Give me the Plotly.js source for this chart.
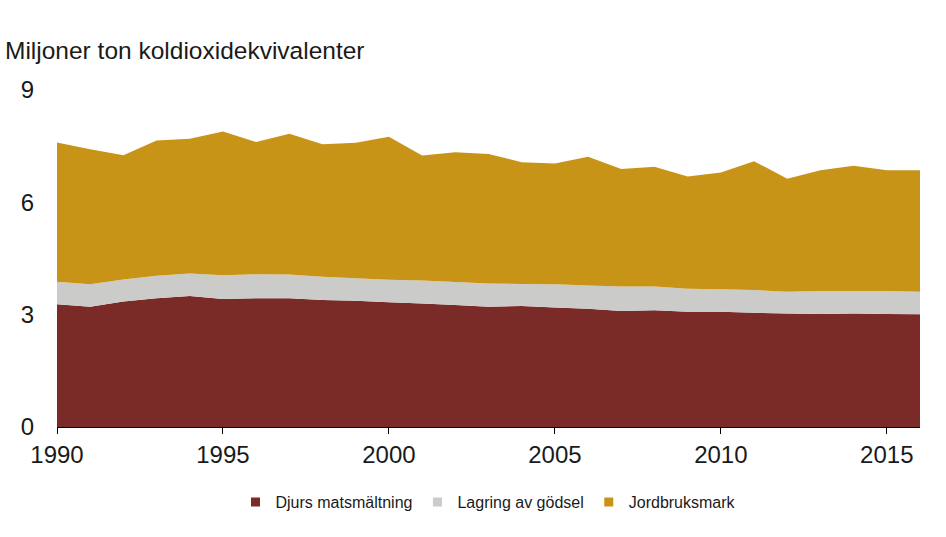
<!DOCTYPE html>
<html>
<head>
<meta charset="utf-8">
<script src="https://cdn.plot.ly/plotly-3.0.1.min.js"></script>
<style>html,body{margin:0;padding:0;background:#fff;}#chart{width:946px;height:537px;}</style>
</head>
<body>
<div id="chart"></div>
<script>
var years = [1990,1991,1992,1993,1994,1995,1996,1997,1998,1999,2000,2001,2002,2003,2004,2005,2006,2007,2008,2009,2010,2011,2012,2013,2014,2015,2016];
var djursMatsmaltning = [3.28,3.21,3.35,3.44,3.50,3.42,3.44,3.44,3.39,3.37,3.33,3.30,3.26,3.21,3.23,3.19,3.16,3.10,3.12,3.08,3.08,3.05,3.03,3.02,3.03,3.02,3.01];
var lagringAvGodsel = [0.60,0.60,0.59,0.60,0.60,0.63,0.64,0.63,0.62,0.60,0.60,0.61,0.61,0.62,0.59,0.62,0.62,0.65,0.63,0.61,0.60,0.61,0.58,0.61,0.60,0.61,0.60];
var jordbruksmark = [3.72,3.61,3.32,3.61,3.60,3.84,3.53,3.76,3.54,3.62,3.82,3.34,3.47,3.46,3.25,3.23,3.44,3.14,3.20,3.00,3.12,3.44,3.02,3.23,3.35,3.23,3.25];
var seriesNames = ["Djurs matsmältning","Lagring av gödsel","Jordbruksmark"];
var colors = ["#7a2a27","#cbccca","#c79418"];
var xTicks = [1990,1995,2000,2005,2010,2015];
var yTicks = [0,3,6,9];

var font = "Arial, 'Liberation Sans', sans-serif";
var vals = [djursMatsmaltning, lagringAvGodsel, jordbruksmark];
var traces = [];
for (var i = 0; i < 3; i++) {
  traces.push({
    x: years, y: vals[i], type: "scatter", mode: "none",
    stackgroup: "one", fillcolor: colors[i], line: {width: 0},
    name: seriesNames[i], showlegend: false, hoverinfo: "x+y+name"
  });
}
for (var j = 0; j < 3; j++) {
  traces.push({
    x: [null], y: [null], type: "scatter", mode: "markers",
    marker: {symbol: "square", size: 9, color: colors[j]},
    name: seriesNames[j], showlegend: true
  });
}

var layout = {
  width: 946, height: 537,
  margin: {l: 57, r: 26, t: 90, b: 110},
  paper_bgcolor: "#fff", plot_bgcolor: "#fff",
  font: {family: font, color: "#1a1a1a"},
  title: {
    text: "Miljoner ton koldioxidekvivalenter",
    font: {family: font, size: 24.5, color: "#1a1a1a"},
    x: 5/946, xanchor: "left", xref: "container",
    y: 1 - 50/537, yanchor: "middle", yref: "container"
  },
  xaxis: {
    range: [1990, 2016], tickvals: xTicks, ticktext: xTicks.map(String),
    ticks: "outside", ticklen: 6, tickcolor: "#000", tickwidth: 1,
    showline: true, linecolor: "#000", linewidth: 1,
    showgrid: false, zeroline: false,
    tickfont: {family: font, size: 24, color: "#1a1a1a"},
    fixedrange: true
  },
  yaxis: {
    range: [0, 9], tickvals: yTicks, ticktext: yTicks.map(String),
    ticks: "", showline: false, zeroline: false,
    showgrid: true, gridcolor: "#d9d9d9", gridwidth: 1,
    tickfont: {family: font, size: 24, color: "#1a1a1a"},
    ticklabelstandoff: 22,
    fixedrange: true
  },
  showlegend: true,
  legend: {
    orientation: "h", x: 0.5, xanchor: "center",
    y: (427 - 502) / 337, yanchor: "middle",
    traceorder: "normal",
    font: {family: font, size: 16, color: "#1a1a1a"},
    itemwidth: 30, tracegroupgap: 0, bgcolor: "rgba(0,0,0,0)"
  }
};
Plotly.newPlot("chart", traces, layout, {displayModeBar: false, staticPlot: true});
</script>
</body>
</html>
